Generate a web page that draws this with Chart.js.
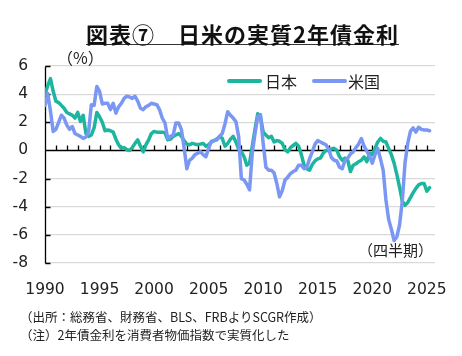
<!DOCTYPE html>
<html><head><meta charset="utf-8">
<script src="https://cdn.jsdelivr.net/npm/chart.js@4.4.1/dist/chart.umd.min.js"></script>
<style>
html,body{margin:0;padding:0;background:#fff;}
#wrap{position:relative;width:462px;height:356px;overflow:hidden;font-family:'Noto Sans CJK JP',sans-serif;color:#222;}
#c{position:absolute;left:0;top:0;}
.t{position:absolute;white-space:nowrap;line-height:1;}
#title{left:86px;top:22px;font-size:22px;font-weight:bold;letter-spacing:1px;border-bottom:1.5px solid #333;color:#111;}
#unit{left:57px;top:49px;font-size:16px;}
#period{left:358px;top:242px;font-size:15px;}
.lg{position:absolute;height:4px;border-radius:2px;}
.lt{position:absolute;font-size:16px;line-height:1;top:73px;}
#n1{left:20px;top:311px;font-size:12.5px;}
#n2{left:20px;top:329px;font-size:12.5px;}
</style></head>
<body><div id="wrap">
<canvas id="c" width="462" height="356"></canvas>
<div class="t" id="title">図表⑦　日米の実質2年債金利</div>
<div class="t" id="unit">（%）</div>
<div class="lg" style="left:227px;top:79px;width:35px;background:#1DB59E"></div>
<div class="lt" style="left:265px">日本</div>
<div class="lg" style="left:312px;top:79px;width:35px;background:#7A97F3"></div>
<div class="lt" style="left:348px">米国</div>
<div class="t" id="period">（四半期）</div>
<div class="t" id="n1">（出所：総務省、財務省、BLS、FRBよりSCGR作成）</div>
<div class="t" id="n2">（注）2年債金利を消費者物価指数で実質化した</div>
</div>
<script>
// Series names
const seriesNames = ['日本', '米国'];
// Quarterly real 2-year yields (%), 1990Q1 .. 2025Q2
const japan = [4.0,4.6,5.1,4.2,3.5,3.4,3.2,3.0,2.7,2.6,2.5,2.3,2.7,2.05,2.5,1.2,1.0,1.1,1.6,2.7,2.4,2.0,1.4,1.45,1.4,1.3,0.8,0.4,0.15,0.2,0.05,0.0,0.2,0.5,0.75,0.3,-0.1,0.4,0.75,1.2,1.35,1.3,1.3,1.3,1.25,0.75,0.8,1.0,1.1,1.2,1.0,0.7,0.45,0.4,0.5,0.45,0.4,0.45,0.5,0.3,0.4,0.6,0.7,0.8,1.0,0.85,0.3,0.5,0.8,1.0,0.6,0.1,-0.1,-0.45,-1.05,-0.9,0.3,1.5,2.6,2.4,1.3,1.1,0.9,1.0,0.6,0.7,0.65,0.5,0.05,-0.1,0.2,0.35,0.5,0.3,-0.3,-1.05,-1.3,-1.4,-1.0,-0.75,-0.6,-0.55,-0.2,0.0,0.0,0.1,0.15,0.0,-0.45,-0.7,-0.55,-0.7,-1.5,-1.05,-0.95,-0.8,-0.7,-0.45,-0.8,-0.2,-0.3,0.15,0.6,0.85,0.65,0.6,0.15,-0.3,-0.9,-1.7,-2.6,-3.6,-3.9,-3.7,-3.35,-3.0,-2.7,-2.45,-2.35,-2.35,-2.9,-2.65];
const us = [3.2,4.05,2.8,1.35,1.5,2.0,2.5,2.3,1.8,1.5,1.7,1.2,1.1,1.0,0.85,0.95,1.35,3.25,3.2,4.55,4.2,3.3,3.35,3.35,2.9,3.35,2.65,3.1,3.35,3.7,3.85,3.8,3.7,3.85,3.5,3.0,2.9,3.1,3.2,3.35,3.3,3.25,2.9,2.3,1.95,0.85,1.0,1.1,1.95,1.95,1.5,0.2,-1.3,-0.7,-0.55,-0.3,-0.2,-0.1,-0.3,-0.45,0.15,0.65,0.7,0.75,1.0,1.2,1.9,2.75,2.5,2.3,2.05,1.0,-2.0,-2.1,-2.4,-2.8,-0.2,1.2,2.4,2.55,0.5,-1.2,-1.4,-1.4,-1.6,-2.35,-3.3,-2.85,-2.1,-1.9,-1.65,-1.5,-1.4,-1.05,-1.05,-1.3,-1.2,-0.6,-0.1,0.45,0.7,0.6,0.5,0.4,0.1,-0.5,-0.7,-0.75,-1.2,-1.3,-0.7,-0.55,-0.25,-0.1,0.2,0.45,0.85,0.3,-0.05,-0.4,-0.9,-0.3,0.15,-0.6,-1.4,-3.5,-4.9,-5.6,-6.4,-6.15,-5.3,-3.6,-0.9,0.5,1.35,1.6,1.3,1.65,1.5,1.45,1.45,1.4];
// Quarter categories
const quarters = [];
for (let yr = 1990; quarters.length < japan.length; yr++) {
  for (let q = 1; q <= 4 && quarters.length < japan.length; q++) quarters.push(yr + 'Q' + q);
}
// Tick labels
const xTickYears = [1990,1995,2000,2005,2010,2015,2020,2025];
const yTicks = [6,4,2,0,-2,-4,-6,-8];
const yearMarks = [];
for (let yr = 1991; yr <= 2025; yr++) yearMarks.push(yr);

const qx = quarters.map(q => Number(q.slice(0,4)) + (Number(q.slice(5)) - 1) / 4);
const toPts = arr => arr.map((v, i) => ({x: qx[i], y: v}));

const axisDecor = {
  id: 'axisDecor',
  beforeDatasetsDraw(chart) {
    const {ctx, chartArea: a, scales: {x, y}} = chart;
    ctx.save();
    ctx.strokeStyle = '#000';
    ctx.lineWidth = 1.3;
    const y0 = Math.round(y.getPixelForValue(0)) + 0.5;
    const lx = Math.round(a.left) + 0.5;
    ctx.beginPath();
    ctx.moveTo(lx, y0); ctx.lineTo(a.right, y0);
    for (const yr of yearMarks) {
      const px = Math.round(x.getPixelForValue(yr)) + 0.5;
      ctx.moveTo(px, y0); ctx.lineTo(px, y0 - 5);
    }
    ctx.moveTo(lx, Math.round(y.getPixelForValue(yTicks[0])) + 0.5);
    ctx.lineTo(lx, Math.round(y.getPixelForValue(yTicks[yTicks.length - 1])) + 0.5);
    for (const v of yTicks) {
      const py = Math.round(y.getPixelForValue(v)) + 0.5;
      ctx.moveTo(lx, py); ctx.lineTo(lx + 5, py);
    }
    ctx.stroke();
    ctx.restore();
  }
};

const numFont = {family: "'DejaVu Sans', sans-serif", size: 15.5};

new Chart(document.getElementById('c'), {
  type: 'line',
  data: {
    datasets: [
      {label: seriesNames[0], data: toPts(japan), borderColor: '#1DB59E', borderWidth: 3.5, pointRadius: 0, tension: 0, borderJoinStyle: 'round', borderCapStyle: 'round', order: 1},
      {label: seriesNames[1], data: toPts(us), borderColor: '#7A97F3', borderWidth: 3.5, pointRadius: 0, tension: 0, borderJoinStyle: 'round', borderCapStyle: 'round', order: 0}
    ]
  },
  options: {
    responsive: false, animation: false, devicePixelRatio: 1,
    layout: {padding: {left: 0, right: 27, top: 66, bottom: 53}},
    plugins: {legend: {display: false}, tooltip: {enabled: false}, title: {display: false}},
    scales: {
      x: {
        type: 'linear', min: 1990, max: 2025.75,
        grid: {display: false}, border: {display: false},
        afterBuildTicks(s) { s.ticks = xTickYears.map(v => ({value: v})); },
        afterFit(s) { s.height = 40; s.paddingLeft = 0; s.paddingRight = 0; },
        ticks: {padding: 10, color: '#222', font: numFont, maxRotation: 0, autoSkip: false, callback: v => String(v)}
      },
      y: {
        min: -8, max: 6,
        afterBuildTicks(s) { s.ticks = yTicks.map(v => ({value: v})); },
        afterFit(s) { s.width = 45; },
        grid: {color: c => (c.tick && c.tick.value === 0) ? 'rgba(0,0,0,0)' : '#d9d9d9', lineWidth: 1.2, drawTicks: false},
        border: {display: false},
        ticks: {padding: 17, color: '#222', font: numFont, callback: v => String(v)}
      }
    }
  },
  plugins: [axisDecor]
});
</script>
</body></html>
